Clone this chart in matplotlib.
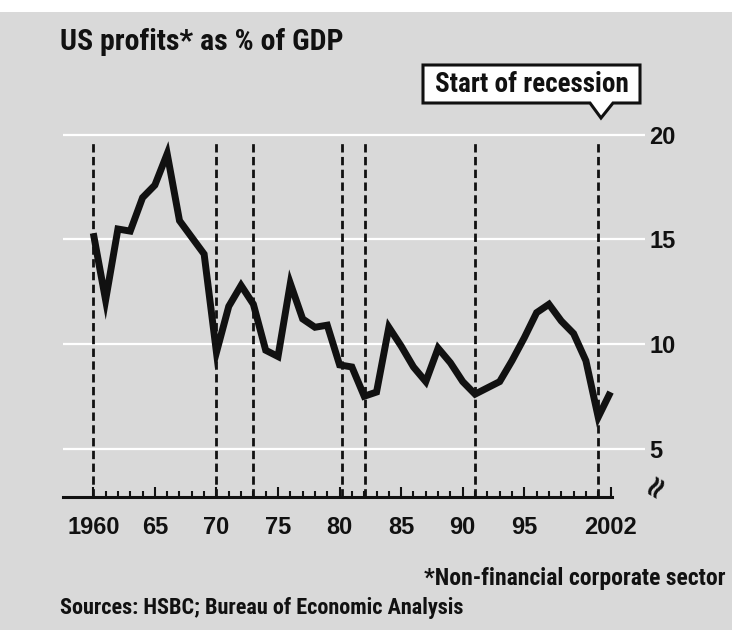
"""US corporate profits as a share of GDP, with recession starts marked."""
import matplotlib
matplotlib.use("Agg")
import matplotlib.pyplot as plt
from matplotlib.patches import Polygon

# ---------------------------------------------------------------- data
YEARS = list(range(1960, 2003))
PROFITS_PCT = [
    15.3, 12.1, 15.5, 15.4, 17.0, 17.6, 19.1, 15.9, 15.1, 14.3,   # 1960s
    9.6, 11.8, 12.8, 11.9, 9.7, 9.4, 12.9, 11.2, 10.8, 10.9,      # 1970s
    9.0, 8.9, 7.5, 7.7, 10.8, 9.9, 8.9, 8.2, 9.8, 9.1,            # 1980s
    8.2, 7.6, 7.9, 8.2, 9.2, 10.3, 11.5, 11.9, 11.1, 10.5,        # 1990s
    9.2, 6.5, 7.7,                                                # 2000-02
]
RECESSION_STARTS = [1960, 1970, 1973, 1980.2, 1982.1, 1991.0, 2001.0]

X_TICKS = [1960, 1965, 1970, 1975, 1980, 1985, 1990, 1995, 2002]
X_TICK_LABELS = ["1960", "65", "70", "75", "80", "85", "90", "95", "2002"]
Y_TICKS = [5, 10, 15, 20]
Y_TICK_LABELS = ["5", "10", "15", "20"]

BG = "#d9d9d9"
NARROW = ["Roboto Condensed", "Roboto", "DejaVu Sans"]
NUMS = ["Liberation Sans", "DejaVu Sans"]
W, H = 732, 630


def fx(px):
    return px / W


def fy(py):
    return 1 - py / H


fig = plt.figure(figsize=(7.32, 6.30), dpi=100, facecolor=BG)
# white strip at the very top of the scan
fig.add_artist(plt.Rectangle((0, fy(12)), 1, 1, transform=fig.transFigure,
                             facecolor="white", edgecolor="none", zorder=0))

ax = fig.add_axes([fx(63), fy(497), fx(645) - fx(63), fy(124.5) - fy(497)])
ax.set_facecolor(BG)
ax.set_xlim(1957.54, 2004.8)
ax.set_ylim(2.68, 20.5)

# recession markers
ax.vlines(RECESSION_STARTS, 2.68, 19.67, colors="#111", lw=2,
          linestyles=(0, (3, 1.6)), zorder=2)

# profits line
ax.plot(YEARS, PROFITS_PCT, color="#111", lw=5, zorder=3,
        solid_joinstyle="miter", solid_capstyle="butt")

# axes styling
for side in ("top", "left", "right"):
    ax.spines[side].set_visible(False)
ax.spines["bottom"].set_bounds(1957.54, 2002.1)
ax.spines["bottom"].set_linewidth(2.2)
ax.spines["bottom"].set_color("#111")

ax.yaxis.tick_right()
ax.set_yticks(Y_TICKS, labels=Y_TICK_LABELS)
ax.tick_params(axis="y", length=0, pad=3)
for t in ax.yaxis.get_major_ticks():
    for lab in (t.label1, t.label2):
        lab.set_fontfamily(NUMS)
        lab.set_fontweight("bold")
        lab.set_fontsize(17)
        lab.set_color("#111")
ax.grid(axis="y", color="white", lw=1.6, zorder=1)
ax.grid(axis="x", visible=False)

ax.set_xticks(X_TICKS, labels=X_TICK_LABELS, fontsize=17, fontweight="bold",
              family=NUMS, color="#111")
ax.set_xticks(YEARS, minor=True)
ax.tick_params(axis="x", which="major", direction="in", length=7.5, width=1.5,
               color="#111", pad=14)
ax.tick_params(axis="x", which="minor", direction="in", length=4.3, width=1.5,
               color="#111")

# axis break symbol below the 5
fig.text(fx(657), fy(486), "\u2248", rotation=60, ha="center", va="center",
         fontsize=22, fontweight="bold", color="#111")

# title
fig.text(fx(60), fy(42), "US profits* as % of GDP", ha="left", va="center",
         fontsize=21.5, fontweight="bold", family=NARROW, color="#111")

# "Start of recession" callout with a tail
callout = [(423, 65), (640, 65), (640, 103), (613, 103), (601, 118),
           (590, 103), (423, 103)]
fig.add_artist(Polygon([(fx(x), fy(y)) for x, y in callout], closed=True,
                       transform=fig.transFigure, facecolor="white",
                       edgecolor="#111", lw=2.2, zorder=5))
fig.text(fx(532), fy(85), "Start of recession", ha="center", va="center",
         fontsize=19.5, fontweight="bold", family=NARROW, color="#111",
         zorder=6)

# footnotes
fig.text(fx(726), fy(578), "*Non-financial corporate sector", ha="right",
         va="center", fontsize=17, fontweight="bold", family=NARROW,
         color="#111")
fig.text(fx(60), fy(608), "Sources: HSBC; Bureau of Economic Analysis",
         ha="left", va="center", fontsize=16, fontweight="bold",
         family=NARROW, color="#111")

fig.savefig("out.png", dpi=100, facecolor=BG)
